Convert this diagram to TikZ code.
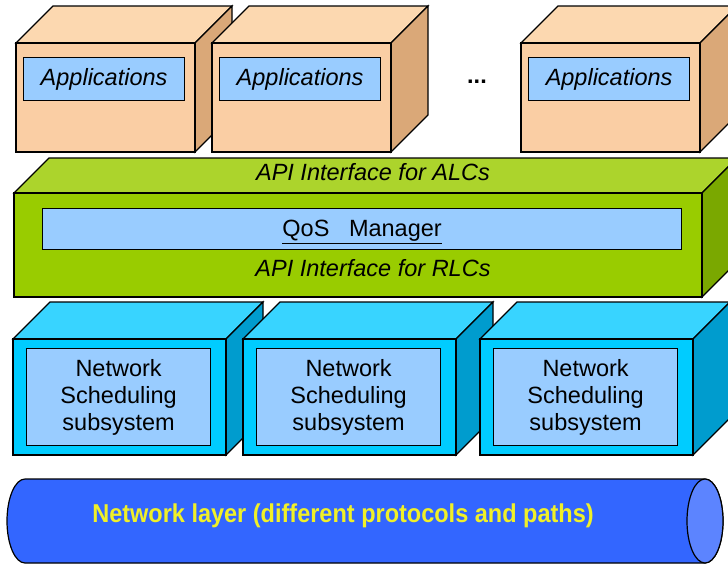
\documentclass[tikz,border=0pt]{standalone}
\usepackage{fontspec}
\setmainfont{Liberation Sans}
\usetikzlibrary{positioning}
\definecolor{apfront}{RGB}{250,206,164}
\definecolor{aptop}{RGB}{252,216,176}
\definecolor{apside}{RGB}{218,168,120}
\definecolor{grfront}{RGB}{153,204,0}
\definecolor{grtop}{RGB}{172,212,44}
\definecolor{grside}{RGB}{122,168,0}
\definecolor{cyfront}{RGB}{0,204,255}
\definecolor{cytop}{RGB}{56,212,255}
\definecolor{cyside}{RGB}{0,156,206}
\definecolor{innerblue}{RGB}{153,204,255}
\definecolor{netblue}{RGB}{51,102,255}
\definecolor{netend}{RGB}{92,132,255}
\definecolor{netyellow}{RGB}{240,240,40}
% x y w h depth front top side
\newcommand{\drawblock}[8]{%
  \filldraw[fill=#7] (#1,#2) -- ++(#5,-#5) -- ++(#3,0) -- ++(-#5,#5) -- cycle;
  \filldraw[fill=#8] ({#1+#3},#2) -- ++(#5,-#5) -- ++(0,#4) -- ++(-#5,#5) -- cycle;
  \filldraw[fill=#6] (#1,#2) rectangle ++(#3,#4);
}

\begin{document}
\begin{tikzpicture}[x=1pt,y=-1pt,line width=1.2pt,line join=miter,
    txt/.style={font=\fontsize{23.5}{27}\selectfont},
    appbox/.style={txt,draw,fill=innerblue,anchor=north west,inner sep=0pt,minimum width=161pt,minimum height=43pt,font=\fontsize{23.5}{27}\selectfont\itshape},
    schedbox/.style={txt,draw,fill=innerblue,anchor=north west,inner sep=0pt,align=center,minimum width=184pt,minimum height=97pt}]
  \useasboundingbox (0,0) rectangle (728,566);
  \clip (0,0) rectangle (728,566);

  % applications
  \foreach \x/\n in {16/1,212/2,521/3}{
    \drawblock{\x}{43}{179}{109}{37}{apfront}{aptop}{apside}
    \node[appbox] (app\n) at (\x+7,57) {Applications};
  }
  \node[txt,font=\fontsize{23.5}{27}\selectfont\bfseries] (dots) at (477,82) {...};

  % QoS layer
  \drawblock{14}{193}{688}{104}{35}{grfront}{grtop}{grside}
  \node[txt,font=\fontsize{23.5}{27}\selectfont\itshape] (alc) at (373,172) {API Interface for ALCs};
  \node[draw,fill=innerblue,anchor=north west,inner sep=0pt,minimum width=639pt,minimum height=41pt] (qos) at (42,208) {};
  \node[txt] (qoslbl) at ([yshift=-3pt]qos.center) {\underline{QoS\ \ \ Manager}};
  \node[txt,font=\fontsize{23.5}{27}\selectfont\itshape] (rlc) at (373,268) {API Interface for RLCs};

  % scheduling subsystems
  \foreach \x/\n in {13/1,243/2,480/3}{
    \drawblock{\x}{339}{213}{116}{37}{cyfront}{cytop}{cyside}
    \node[schedbox] (sched\n) at (\x+13,348) {Network\\Scheduling\\subsystem};
  }

  % network layer
  \filldraw[fill=netblue] (25,479) -- (705,479)
    arc[start angle=-90,end angle=90,x radius=18,y radius=42] -- (25,563)
    arc[start angle=90,end angle=270,x radius=18,y radius=42] -- cycle;
  \filldraw[fill=netend] (705,521) ellipse[x radius=18,y radius=42];
  \node[text=netyellow,font=\fontsize{23.5}{27}\selectfont\bfseries] (netlayer) at (343,516)
    {\scalebox{1}[1.1]{Network layer (different protocols and paths)}};
\end{tikzpicture}
\end{document}
